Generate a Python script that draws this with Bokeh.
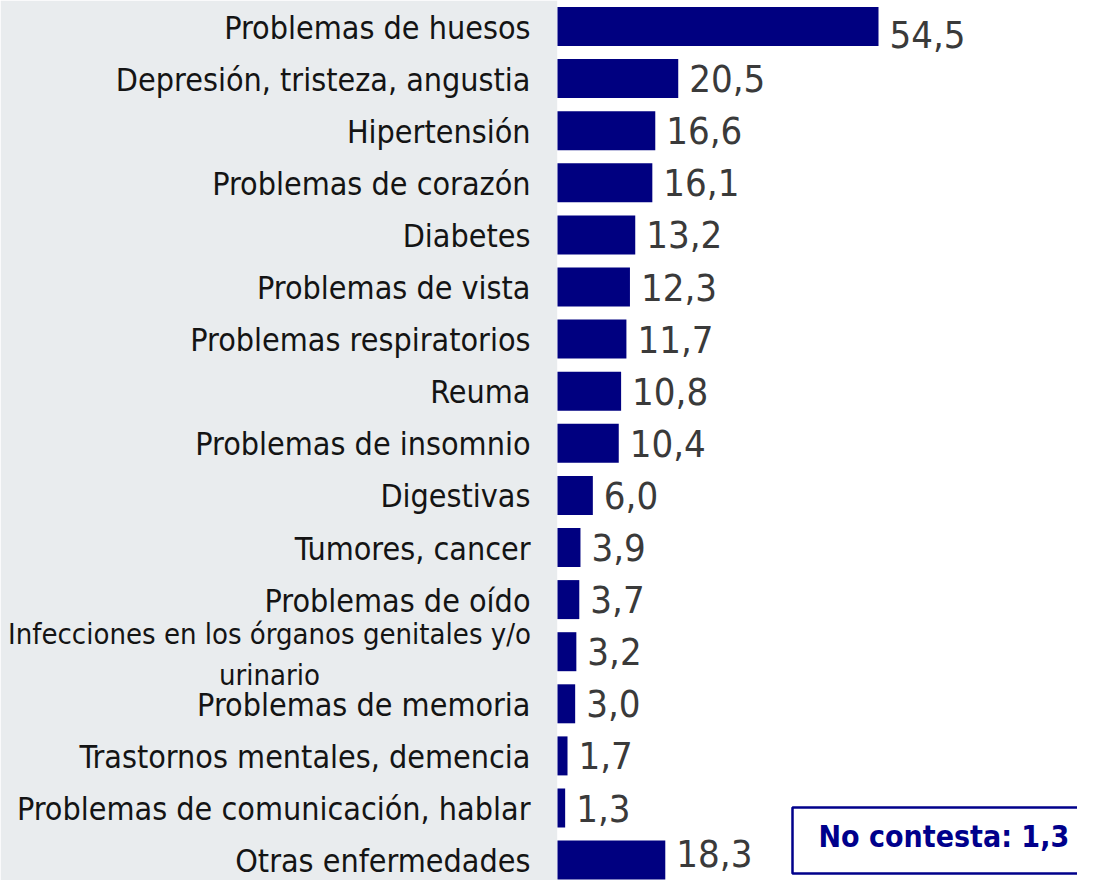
from bokeh.plotting import figure
from bokeh.models import Range1d, ColumnDataSource, BoxAnnotation, Label
from bokeh.core.properties import value
from bokeh.embed import file_html
from bokeh.resources import INLINE

# ---------------- data ----------------
categories = [
    "Problemas de huesos",
    "Depresión, tristeza, angustia",
    "Hipertensión",
    "Problemas de corazón",
    "Diabetes",
    "Problemas de vista",
    "Problemas respiratorios",
    "Reuma",
    "Problemas de insomnio",
    "Digestivas",
    "Tumores, cancer",
    "Problemas de oído",
    "Infecciones en los órganos genitales y/o urinario",
    "Problemas de memoria",
    "Trastornos mentales, demencia",
    "Problemas de comunicación, hablar",
    "Otras enfermedades",
]
values = [54.5, 20.5, 16.6, 16.1, 13.2, 12.3, 11.7, 10.8, 10.4,
          6.0, 3.9, 3.7, 3.2, 3.0, 1.7, 1.3, 18.3]
no_contesta = 1.3

# ---------------- layout / style ----------------
W, H = 1077, 880
PX_PER_UNIT = 5.89
ROW_PX = 52.1
ZERO_PX = 557          # screen x of value 0
FIRST_ROW_PX = 26.0    # screen y of the first row centre
BAR_PX = 39
FONT = "DejaVu Sans Condensed"
BAR_COLOR = "#000080"
NAVY = "#00008b"
BG_GRAY = "#e9ecee"

WRAP = {"Infecciones en los órganos genitales y/o urinario":
        "Infecciones en los órganos genitales y/o\nurinario"}


def fmt(v):
    return f"{v:.1f}".replace(".", ",")


def sx(px):
    return (px - ZERO_PX) / PX_PER_UNIT


def sy(px):
    return (px - FIRST_ROW_PX) / ROW_PX


rows = list(range(len(categories)))

p = figure(width=W, height=H, output_backend="svg", toolbar_location=None,
           x_axis_location=None, y_axis_location=None,
           min_border=0, outline_line_color=None)
p.x_range = Range1d(sx(0), sx(W))
p.y_range = Range1d(sy(H), sy(0))
p.grid.visible = False
p.background_fill_color = "white"
p.border_fill_color = "white"

# gray label area
p.add_layout(BoxAnnotation(right=sx(ZERO_PX - 0.3), fill_color=BG_GRAY, fill_alpha=1.0,
                           line_color=None, level="underlay"))

src = ColumnDataSource(dict(row=rows, val=values, cat=categories))
p.hbar(y="row", right="val", left=0, height=BAR_PX / ROW_PX, source=src,
       fill_color=BAR_COLOR, line_color=None)

# value labels
vmax = max(values)
val_offsets = []
for i, v in enumerate(values):
    if v == vmax:
        val_offsets.append(8)
    elif i == len(values) - 1:
        val_offsets.append(-7)
    else:
        val_offsets.append(0)
vsrc = ColumnDataSource(dict(row=rows, val=values, txt=[fmt(v) for v in values],
                             yo=val_offsets))
p.text(x="val", y="row", text="txt", source=vsrc, x_offset=11, y_offset="yo",
       text_font=value(FONT), text_font_size="38px", text_color="#3a3a3a",
       text_align="left", text_baseline="alphabetic")

# category labels (single line)
single = [(r, c) for r, c in zip(rows, categories) if c not in WRAP]
lsrc = ColumnDataSource(dict(row=[r for r, _ in single], x=[0] * len(single),
                             txt=[c for _, c in single]))
p.text(x="x", y="row", text="txt", source=lsrc, x_offset=-27, y_offset=1,
       text_font=value(FONT), text_font_size="32px", text_color="#141414",
       text_align="right", text_baseline="alphabetic")

# wrapped category label
wrapped = [(r, WRAP[c]) for r, c in zip(rows, categories) if c in WRAP]
wsrc = ColumnDataSource(dict(row=[r for r, _ in wrapped], x=[0] * len(wrapped),
                             txt=[t for _, t in wrapped]))
p.text(x="x", y="row", text="txt", source=wsrc, x_offset=-288, y_offset=3,
       text_font=value(FONT), text_font_size="29px", text_color="#141414",
       text_align="center", text_baseline="middle", text_line_height=1.2)

# "No contesta" box
p.add_layout(BoxAnnotation(left=sx(792), right=sx(W + 200), top=sy(807), bottom=sy(873),
                           fill_color="white", fill_alpha=1.0,
                           line_color=NAVY, line_alpha=1.0, line_width=2.5))
p.add_layout(Label(x=sx(818), y=sy(836),
                   text=f"No contesta: {fmt(no_contesta)}",
                   text_font=FONT, text_font_size="30px", text_font_style="bold",
                   text_color=NAVY, text_align="left", text_baseline="alphabetic"))

open("out.html", "w").write(file_html(p, INLINE))
